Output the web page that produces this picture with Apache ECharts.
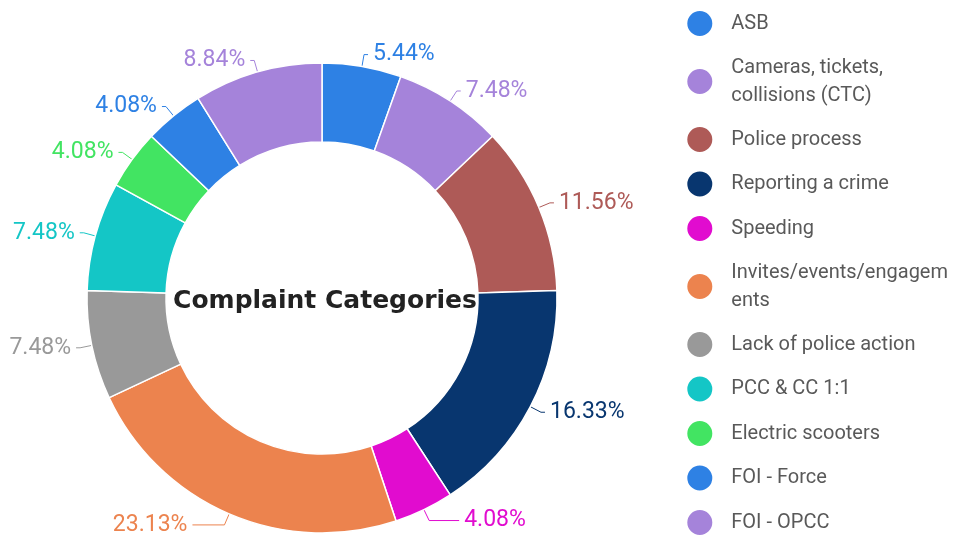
<!DOCTYPE html>
<html>
<head>
<meta charset="utf-8">
<script src="https://cdn.jsdelivr.net/npm/echarts@6/dist/echarts.min.js"></script>
<style>
  html, body { margin: 0; padding: 0; background: #fff; }
  #main { width: 955px; height: 543px; }
</style>
</head>
<body>
<div id="main"></div>
<script>
"use strict";

// categories in the order they go round the ring (clockwise from the top)
var categories = [
    "ASB",
    "Cameras, tickets, collisions (CTC)",
    "Police process",
    "Reporting a crime",
    "Speeding",
    "Invites/events/engagements",
    "Lack of police action",
    "PCC & CC 1:1",
    "Electric scooters",
    "FOI - Force",
    "FOI - OPCC"
];
// complaint counts (147 in total)
var counts = [8, 11, 17, 24, 6, 34, 11, 11, 6, 6, 13];
var colours = [
    "#2e81e4", "#a583da", "#ae5a57", "#08366f", "#e10ccf", "#ec834e",
    "#999999", "#14c6c6", "#42e462", "#2e81e4", "#a583da"
];
// second label-line segment; longer for the two bottom labels that were pushed aside
var lineLen2 = [4, 4, 4, 4, 30, 32, 4, 4, 4, 4, 4];

// wrap legend text like the original: on spaces, or hard at 22 chars
function wrapName(name){
    var maxLen = 22;
    var words = name.split(" ");
    var lines = [];
    var cur = "";
    for (var i = 0; i < words.length; i++) {
        var w = words[i];
        var tryLine = cur ? cur + " " + w : w;
        if (tryLine.length <= maxLen) {
            cur = tryLine;
        } else {
            if (cur) { lines.push(cur); }
            while (w.length > maxLen) {
                lines.push(w.slice(0, maxLen));
                w = w.slice(maxLen);
            }
            cur = w;
        }
    }
    if (cur) { lines.push(cur); }
    return lines.join("\n");
}

window.onload = function(){

    var total = 0;
    for (var k = 0; k < counts.length; k++) { total += counts[k]; }

    var data = [];
    for (var i = 0; i < categories.length; i++) {
        data.push({
            name: categories[i],
            value: counts[i],
            itemStyle: { color: colours[i] },
            label: { color: colours[i] },
            labelLine: { length2: lineLen2[i], lineStyle: { color: colours[i] } }
        });
    }

    var option = {
        animation: false,
        title: {
            text: "Complaint Categories",
            left: 320,
            top: 296,
            textAlign: "center",
            textVerticalAlign: "middle",
            textStyle: {
                fontFamily: "DejaVu Sans",
                fontWeight: "bold",
                fontSize: 25,
                color: "#222"
            }
        },
        legend: {
            orient: "vertical",
            right: 7,
            top: 9,
            padding: 0,
            icon: "circle",
            itemWidth: 53,
            itemHeight: 27,
            itemGap: 15.5,
            formatter: wrapName,
            textStyle: {
                fontFamily: "Roboto",
                fontSize: 20,
                color: "#595959",
                lineHeight: 28
            }
        },
        series: [{
            type: "pie",
            center: [322, 298],
            radius: [156, 235],
            startAngle: 90,
            clockwise: true,
            data: data,
            itemStyle: { borderColor: "#fff", borderWidth: 1.5 },
            label: {
                show: true,
                formatter: function(p){
                    return (p.value / total * 100).toFixed(2) + "%";
                },
                fontFamily: "Roboto",
                fontSize: 23,
                overflow: "none"
            },
            labelLine: { length: 12, length2: 4 }
        }]
    };

    var myChart = echarts.init(document.getElementById("main"));
    myChart.setOption(option);
};
</script>
</body>
</html>
